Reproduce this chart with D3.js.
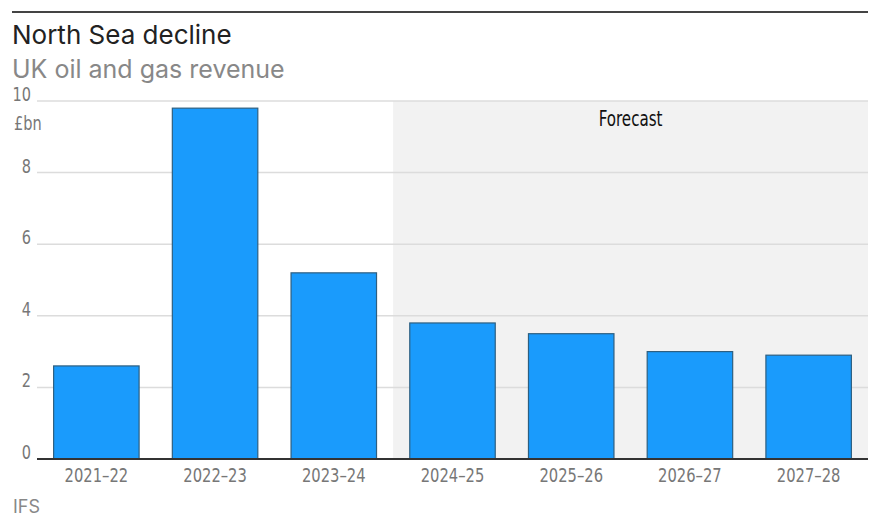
<!DOCTYPE html>
<html><head><meta charset="utf-8">
<script src="https://cdn.jsdelivr.net/npm/d3@7"></script>
<style>
body{margin:0;background:#fff;}
.cond{font-family:"DejaVu Sans Condensed","Liberation Sans Narrow","Roboto",sans-serif;}
</style></head>
<body><svg id="c" width="890" height="529"></svg>
<script>
const categories = ["2021–22","2022–23","2023–24","2024–25","2025–26","2026–27","2027–28"];
const revenue = [2.6, 9.8, 5.2, 3.8, 3.5, 3.0, 2.9];
const forecastFrom = "2024–25";
const yTicks = [0,2,4,6,8,10];
const title = "North Sea decline";
const subtitle = "UK oil and gas revenue";
const unit = "£bn";
const source = "IFS";

const svg = d3.select("#c");
const pLeft = 37, pRight = 868, pTop = 101, pBottom = 459;
const x = d3.scaleBand().domain(categories).range([pLeft,pRight]).paddingInner(0.28).paddingOuter(0.14);
const y = d3.scaleLinear().domain([0,10]).range([pBottom,pTop]);

svg.append("line").attr("x1",12).attr("x2",868).attr("y1",12).attr("y2",12).attr("stroke","#444").attr("stroke-width",2);
svg.append("text").attr("x",12).attr("y",44).text(title).attr("font-family","Inter, sans-serif").attr("font-size",26).attr("fill","#222");
svg.append("text").attr("x",12).attr("y",78).text(subtitle).attr("font-family","Inter, sans-serif").attr("font-size",25).attr("fill","#888");

// forecast shade
const fIdx = categories.indexOf(forecastFrom);
const fx = x(categories[fIdx-1]) + x.bandwidth() + (x.step()-x.bandwidth())/2;
svg.append("rect").attr("x",fx).attr("y",pTop).attr("width",pRight-fx).attr("height",pBottom-pTop).attr("fill","#f2f2f2");
svg.append("g").attr("transform",`translate(${(fx+pRight)/2},126)`)
  .append("text").attr("class","cond").attr("transform","scale(0.8,1)").attr("text-anchor","middle")
  .attr("font-size",21).attr("fill","#111").text("Forecast");

// gridlines
svg.append("g").selectAll("line").data(yTicks.filter(d=>d>0)).join("line")
  .attr("x1",pLeft).attr("x2",pRight).attr("y1",d=>y(d)).attr("y2",d=>y(d)).attr("stroke","#dcdcdc").attr("stroke-width",1.5);

// y labels
svg.append("g").selectAll("g").data(yTicks).join("g").attr("transform",d=>`translate(31,${y(d)})`)
  .append("text").attr("class","cond").attr("transform","scale(0.85,1)")
  .attr("text-anchor","end").attr("font-size",19).attr("fill","#777").text(d=>d);
svg.append("g").attr("transform","translate(14,130)").append("text").attr("class","cond").attr("transform","scale(0.85,1)")
  .attr("font-size",19).attr("fill","#777").text(unit);

// bars
svg.append("g").selectAll("rect").data(revenue).join("rect")
  .attr("x",(d,i)=>x(categories[i])).attr("y",d=>y(d)).attr("width",x.bandwidth()).attr("height",d=>pBottom-y(d))
  .attr("fill","#1a9bfc").attr("stroke","#2e5f80").attr("stroke-width",1.2);

// axis
const xAxis = svg.append("g").attr("transform",`translate(0,${pBottom})`).call(d3.axisBottom(x).tickSize(0).tickPadding(9));
xAxis.select(".domain").attr("stroke","#333").attr("stroke-width",2).attr("d",`M${pLeft},0H${pRight}`);
xAxis.attr("font-family",null).attr("font-size",null);
xAxis.selectAll("text").attr("class","cond").attr("font-size",20).attr("fill","#777").attr("transform","scale(0.82,1)");

svg.append("text").attr("x",13).attr("y",513).attr("font-family","Inter, sans-serif").attr("font-size",18).attr("fill","#888").text(source);
</script></body></html>
